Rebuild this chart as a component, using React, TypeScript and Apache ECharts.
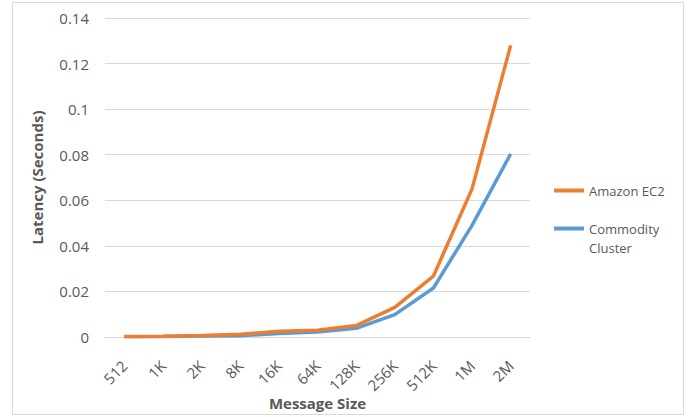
import React, { useEffect, useRef } from "react";
import * as echarts from "echarts";

// Message sizes on the x axis
const messageSizes = ["512", "1K", "2K", "8K", "16K", "64K", "128K", "256K", "512K", "1M", "2M"];

// Latency in seconds
const amazonEC2 = [0.0002, 0.0003, 0.0007, 0.0012, 0.0025, 0.003, 0.005, 0.013, 0.0267, 0.065, 0.128];
const commodityCluster = [0.0001, 0.0002, 0.0004, 0.0006, 0.0015, 0.0022, 0.0038, 0.0098, 0.0215, 0.049, 0.0804];

const seriesNames = ["Amazon EC2", "Commodity Cluster"];
// The wrapped entry starts with an empty line so its icon sits level with "Commodity"
const legendLabels: Record<string, string> = {
  "Amazon EC2": "Amazon EC2",
  "Commodity Cluster": "\nCommodity\nCluster",
};

const FONT = "'Open Sans', 'Liberation Sans', sans-serif";
const LABEL_COLOR = "#595959";

export default function App() {
  const ref = useRef<HTMLDivElement>(null);

  useEffect(() => {
    if (!ref.current) return;
    const chart = echarts.init(ref.current, undefined, { renderer: "svg" });
    chart.setOption({
      animation: false,
      backgroundColor: "#ffffff",
      textStyle: { fontFamily: FONT },
      graphic: [
        {
          type: "rect",
          shape: { x: 12.5, y: 2.5, width: 671, height: 412 },
          style: { fill: "none", stroke: "#d9d9d9", lineWidth: 1 },
          silent: true,
        },
      ],
      grid: { left: 105, right: 160, top: 18, bottom: 80, outerBoundsMode: "none", containLabel: false },
      legend: {
        orient: "vertical",
        left: 549,
        top: 176,
        itemWidth: 30,
        itemHeight: 4,
        itemGap: 0,
        icon: "rect",
        data: seriesNames,
        formatter: (name: string) => legendLabels[name] ?? name,
        textStyle: {
          fontFamily: FONT,
          fontSize: 13,
          color: LABEL_COLOR,
          lineHeight: 19,
        },
      },
      xAxis: {
        type: "category",
        data: messageSizes,
        boundaryGap: true,
        name: "Message Size",
        nameLocation: "middle",
        nameGap: 58,
        nameMoveOverlap: false,
        nameTextStyle: { fontFamily: FONT, fontSize: 15, fontWeight: "bold", color: LABEL_COLOR },
        axisLine: { show: true, lineStyle: { color: "#d9d9d9", width: 1 } },
        axisTick: { show: false },
        axisLabel: {
          rotate: 45,
          margin: 26,
          fontFamily: FONT,
          fontSize: 15,
          color: LABEL_COLOR,
        },
      },
      yAxis: {
        type: "value",
        min: 0,
        max: 0.14,
        interval: 0.02,
        name: "Latency (Seconds)",
        nameLocation: "middle",
        nameGap: 61,
        nameMoveOverlap: false,
        nameTextStyle: { fontFamily: FONT, fontSize: 15, fontWeight: "bold", color: LABEL_COLOR },
        axisLine: { show: false },
        axisTick: { show: false },
        splitLine: { show: true, lineStyle: { color: "#d9d9d9", width: 1 } },
        axisLabel: {
          margin: 16,
          fontFamily: FONT,
          fontSize: 15,
          color: LABEL_COLOR,
        },
      },
      series: [
        {
          name: seriesNames[0],
          type: "line",
          data: amazonEC2,
          showSymbol: false,
          symbol: "none",
          lineStyle: { color: "#ED7D31", width: 3.5 },
          itemStyle: { color: "#ED7D31" },
          z: 3,
        },
        {
          name: seriesNames[1],
          type: "line",
          data: commodityCluster,
          showSymbol: false,
          symbol: "none",
          lineStyle: { color: "#5B9BD5", width: 3.5 },
          itemStyle: { color: "#5B9BD5" },
          z: 2,
        },
      ],
    });
    return () => chart.dispose();
  }, []);

  return (
    <div
      ref={ref}
      style={{ position: "fixed", left: 0, top: 0, width: 690, height: 417 }}
    />
  );
}
